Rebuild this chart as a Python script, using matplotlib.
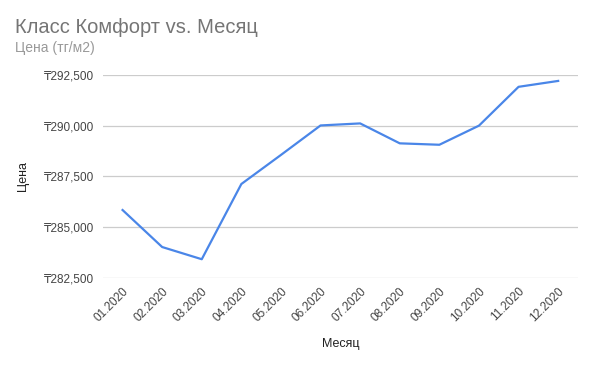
import matplotlib.pyplot as plt
from matplotlib.ticker import FuncFormatter

plt.rcParams['font.family'] = ['Liberation Sans', 'DejaVu Sans']

months = ['01.2020', '02.2020', '03.2020', '04.2020', '05.2020', '06.2020',
          '07.2020', '08.2020', '09.2020', '10.2020', '11.2020', '12.2020']
prices = [285850, 284030, 283430, 287130, 288560, 290010,
          290110, 289130, 289060, 290000, 291910, 292200]
y_ticks = [282500, 285000, 287500, 290000, 292500]

fig = plt.figure(figsize=(5.94, 3.65), dpi=100)
ax = fig.add_axes([0.173, 0.238, 0.8, 0.557])

x = list(range(len(months)))
ax.plot(x, prices, color='#4a86e8', linewidth=1.6)

ax.set_xlim(-0.5, len(months) - 0.5)
ax.set_ylim(y_ticks[0], y_ticks[-1])
ax.set_yticks(y_ticks)
ax.yaxis.set_major_formatter(FuncFormatter(lambda v, p: f'₸{v:,.0f}'))
ax.set_xticks(x)
ax.set_xticklabels(months, rotation=45, ha='right', rotation_mode='anchor')

ax.grid(axis='y', color='#cccccc', linewidth=0.9)
ax.set_axisbelow(True)
for s in ax.spines.values():
    s.set_visible(False)
ax.tick_params(length=0, labelsize=8.5, colors='#444444', pad=6)
ax.tick_params(axis='x', pad=5)

ax.set_xlabel('Месяц', fontsize=9, color='#222222', labelpad=10)
ax.set_ylabel('Цена', fontsize=9, color='#222222', labelpad=11)

fig.text(0.025, 0.925, 'Класс Комфорт vs. Месяц', fontsize=14.5, color='#757575', va='center')
fig.text(0.025, 0.868, 'Цена (тг/м2)', fontsize=10, color='#999999', va='center')

fig.savefig('out.png', dpi=100)
